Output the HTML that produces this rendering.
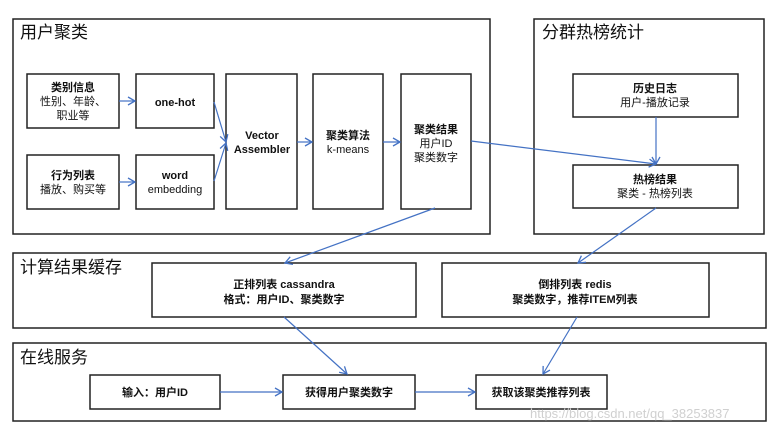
<!DOCTYPE html>
<html><head><meta charset="utf-8"><style>
body{margin:0;background:#fff}
svg text{font-family:"Liberation Sans","Noto Sans CJK SC",sans-serif;fill:#111}
.b{font-weight:bold}
</style></head><body>
<svg width="775" height="433" viewBox="0 0 775 433" xmlns="http://www.w3.org/2000/svg">
<defs><marker id="a" markerWidth="10" markerHeight="10" refX="8" refY="5" orient="auto" markerUnits="userSpaceOnUse"><path d="M1,1 L8,5 L1,9" fill="none" stroke="#4472C4" stroke-width="1.3"/></marker></defs>
<g fill="none" stroke="#222" stroke-width="1.5">
<rect x="13" y="19" width="477" height="215"/>
<rect x="534" y="19" width="230" height="215"/>
<rect x="13" y="253" width="753" height="75"/>
<rect x="13" y="343" width="753" height="78"/>
<rect x="27" y="74" width="92" height="54"/>
<rect x="136" y="74" width="78" height="54"/>
<rect x="27" y="155" width="92" height="54"/>
<rect x="136" y="155" width="78" height="54"/>
<rect x="226" y="74" width="71" height="135"/>
<rect x="313" y="74" width="70" height="135"/>
<rect x="401" y="74" width="70" height="135"/>
<rect x="573" y="74" width="165" height="43"/>
<rect x="573" y="165" width="165" height="43"/>
<rect x="152" y="263" width="264" height="54"/>
<rect x="442" y="263" width="267" height="54"/>
<rect x="90" y="375" width="130" height="34"/>
<rect x="283" y="375" width="132" height="34"/>
<rect x="476" y="375" width="131" height="34"/>
</g>
<g stroke="#4472C4" stroke-width="1.2" fill="none" marker-end="url(#a)">
<line x1="119" y1="101" x2="135" y2="101"/>
<line x1="119" y1="182" x2="135" y2="182"/>
<line x1="214" y1="102" x2="226" y2="142"/>
<line x1="214" y1="181" x2="226" y2="143"/>
<line x1="297" y1="142" x2="312" y2="142"/>
<line x1="383" y1="142" x2="400" y2="142"/>
<line x1="471" y1="141" x2="656" y2="164"/>
<line x1="656" y1="117" x2="656" y2="164"/>
<line x1="435" y1="208" x2="285" y2="263"/>
<line x1="656" y1="208" x2="578" y2="263"/>
<line x1="284" y1="317" x2="347" y2="374"/>
<line x1="577" y1="317" x2="543" y2="374"/>
<line x1="220" y1="392" x2="282" y2="392"/>
<line x1="415" y1="392" x2="475" y2="392"/>
</g>
<g font-size="17">
<text x="20" y="38">用户聚类</text>
<text x="542" y="38">分群热榜统计</text>
<text x="20" y="273">计算结果缓存</text>
<text x="20" y="363">在线服务</text>
</g>
<g font-size="11" text-anchor="middle">
<text x="73" y="91" class="b">类别信息</text>
<text x="73" y="105">性别、年龄、</text>
<text x="73" y="119">职业等</text>
<text x="175" y="106" class="b">one-hot</text>
<text x="73" y="179" class="b">行为列表</text>
<text x="73" y="193">播放、购买等</text>
<text x="175" y="179" class="b">word</text>
<text x="175" y="193">embedding</text>
<text x="262" y="139" class="b">Vector</text>
<text x="262" y="153" class="b">Assembler</text>
<text x="348" y="139" class="b">聚类算法</text>
<text x="348" y="153">k-means</text>
<text x="436" y="133" class="b">聚类结果</text>
<text x="436" y="147">用户ID</text>
<text x="436" y="161">聚类数字</text>
<text x="655" y="92" class="b">历史日志</text>
<text x="655" y="106">用户-播放记录</text>
<text x="655" y="183" class="b">热榜结果</text>
<text x="655" y="197">聚类 - 热榜列表</text>
<text x="284" y="288" class="b">正排列表 cassandra</text>
<text x="284" y="303" class="b">格式：用户ID、聚类数字</text>
<text x="575" y="288" class="b">倒排列表 redis</text>
<text x="575" y="303" class="b">聚类数字，推荐ITEM列表</text>
<text x="155" y="396" class="b">输入：用户ID</text>
<text x="349" y="396" class="b">获得用户聚类数字</text>
<text x="541" y="396" class="b">获取该聚类推荐列表</text>
</g>
<text x="530" y="418" font-size="13" style="fill:#d0d0d0">https://blog.csdn.net/qq_38253837</text>
</svg>
</body></html>
